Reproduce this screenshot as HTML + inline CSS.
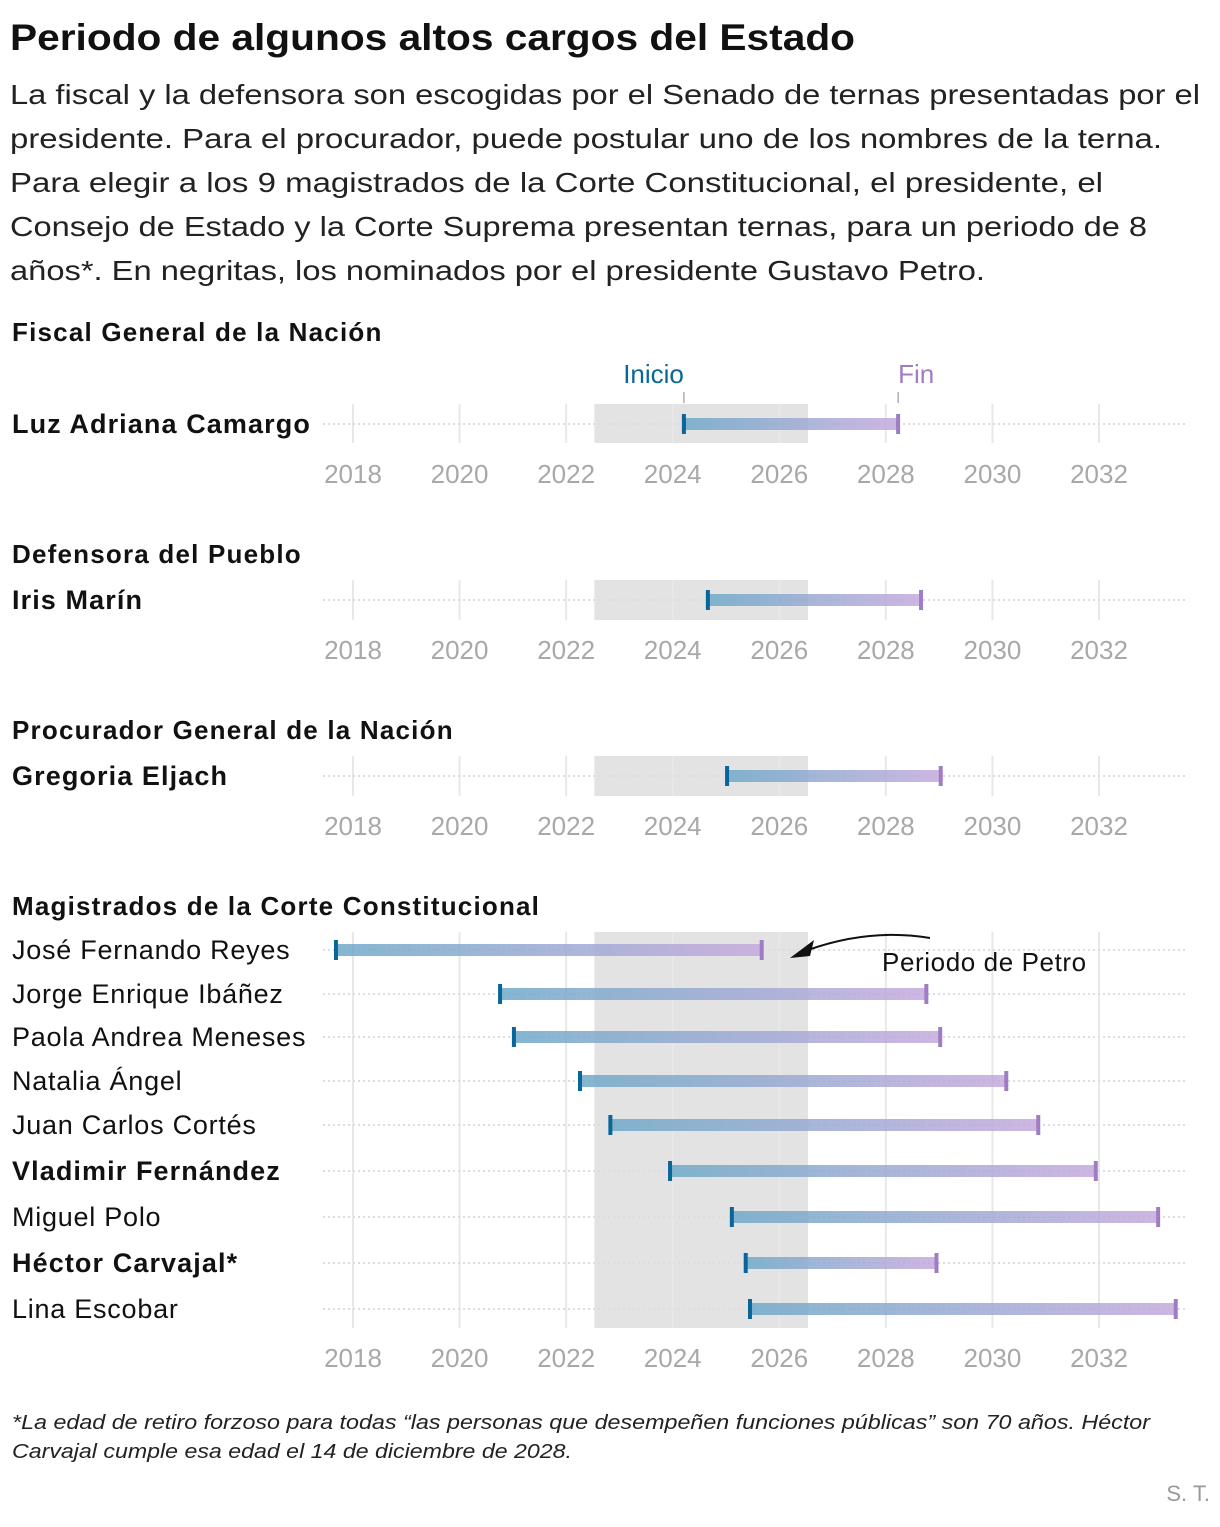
<!DOCTYPE html>
<html><head><meta charset="utf-8"><style>
html,body{margin:0;padding:0;background:#fff;}
svg text{font-family:"Liberation Sans",sans-serif;}
</style></head><body>
<svg id="chart" width="1220" height="1522" viewBox="0 0 1220 1522" xmlns="http://www.w3.org/2000/svg">
<defs>
<linearGradient id="barGrad" x1="0" x2="1" y1="0" y2="0">
<stop offset="0" stop-color="#6fa9c9"/><stop offset="1" stop-color="#c4a9dd"/>
</linearGradient>
</defs>
<text x="10" y="50" font-size="37" font-weight="bold" fill="#111" textLength="845" lengthAdjust="spacingAndGlyphs">Periodo de algunos altos cargos del Estado</text>
<g font-size="28" fill="#222">
<text x="10" y="104" textLength="1190" lengthAdjust="spacingAndGlyphs">La fiscal y la defensora son escogidas por el Senado de ternas presentadas por el</text>
<text x="10" y="148" textLength="1152" lengthAdjust="spacingAndGlyphs">presidente. Para el procurador, puede postular uno de los nombres de la terna.</text>
<text x="10" y="192" textLength="1093" lengthAdjust="spacingAndGlyphs">Para elegir a los 9 magistrados de la Corte Constitucional, el presidente, el</text>
<text x="10" y="236" textLength="1137" lengthAdjust="spacingAndGlyphs">Consejo de Estado y la Corte Suprema presentan ternas, para un periodo de 8</text>
<text x="10" y="280" textLength="975" lengthAdjust="spacingAndGlyphs">años*. En negritas, los nominados por el presidente Gustavo Petro.</text>
</g>
<g id="plots"></g>
<g font-size="20" font-style="italic" fill="#222">
<text x="12" y="1429" textLength="1138" lengthAdjust="spacingAndGlyphs">*La edad de retiro forzoso para todas “las personas que desempeñen funciones públicas” son 70 años. Héctor</text>
<text x="12" y="1458" textLength="560" lengthAdjust="spacingAndGlyphs">Carvajal cumple esa edad el 14 de diciembre de 2028.</text>
</g>
<text x="1210" y="1501" font-size="22" fill="#999" text-anchor="end">S. T.</text>
</svg>
<script>
const ticks = [2018, 2020, 2022, 2024, 2026, 2028, 2030, 2032];
const petroStart = 2022.53, petroEnd = 2026.54;
const panelTitles = ["Fiscal General de la Nación","Defensora del Pueblo","Procurador General de la Nación","Magistrados de la Corte Constitucional"];
const p1Names = ["Luz Adriana Camargo"], p1Start=[2024.21], p1End=[2028.23], p1Bold=[true];
const p2Names = ["Iris Marín"], p2Start=[2024.66], p2End=[2028.66], p2Bold=[true];
const p3Names = ["Gregoria Eljach"], p3Start=[2025.02], p3End=[2029.03], p3Bold=[true];
const p4Names = ["José Fernando Reyes","Jorge Enrique Ibáñez","Paola Andrea Meneses","Natalia Ángel","Juan Carlos Cortés","Vladimir Fernández","Miguel Polo","Héctor Carvajal*","Lina Escobar"];
const p4Start = [2017.68,2020.76,2021.02,2022.26,2022.83,2023.95,2025.11,2025.37,2025.45];
const p4End = [2025.67,2028.76,2029.02,2030.26,2030.86,2031.94,2033.11,2028.95,2033.44];
const p4Bold = [false,false,false,false,false,true,false,true,false];

const NS="http://www.w3.org/2000/svg";
const x = v => 353 + (v-2018)*(746/14);
const g = document.getElementById('plots');
function el(tag, attrs, parent){const e=document.createElementNS(NS,tag);for(const k in attrs)e.setAttribute(k,attrs[k]);(parent||g).appendChild(e);return e;}

const panels = [
 {title:panelTitles[0], titleY:341, top:404, rows:[424], bottom:443, shadeTop:404, shadeBot:443, axisY:483, names:p1Names, s:p1Start, e:p1End, b:p1Bold},
 {title:panelTitles[1], titleY:563, top:580, rows:[600], bottom:620, shadeTop:580, shadeBot:620, axisY:659, names:p2Names, s:p2Start, e:p2End, b:p2Bold},
 {title:panelTitles[2], titleY:739, top:756, rows:[776], bottom:796, shadeTop:756, shadeBot:796, axisY:835, names:p3Names, s:p3Start, e:p3End, b:p3Bold},
 {title:panelTitles[3], titleY:915, top:932, rows:[950,994,1037,1081,1125,1171,1217,1263,1309], bottom:1328, shadeTop:932, shadeBot:1328, axisY:1367, names:p4Names, s:p4Start, e:p4End, b:p4Bold}
];
panels.forEach((p,pi)=>{
  const pg = el('g',{});
  
  
  const t = el('text',{x:12,y:p.titleY,'font-size':26,'font-weight':'bold',fill:'#111','letter-spacing':1.2},pg);
  
  
  t.textContent=p.title;
  const sh = el('rect',{x:x(petroStart),y:p.shadeTop,width:x(petroEnd)-x(petroStart),height:p.shadeBot-p.shadeTop,fill:'#e3e3e3'},pg);
  
  
  ticks.forEach(tk=>{
    const l=el('line',{x1:x(tk),x2:x(tk),y1:p.top,y2:p.bottom,stroke:'#e8e8e8','stroke-width':2},pg);
    
    
    const lb=el('text',{x:x(tk),y:p.axisY,'font-size':26,fill:'#a8a8a8','text-anchor':'middle'},pg);
    
    
    lb.textContent=tk;
  });
  p.rows.forEach((ry,i)=>{
    const dl=el('line',{x1:323,x2:1187,y1:ry,y2:ry,stroke:'#ddd','stroke-width':2,'stroke-dasharray':'2 3'},pg);
    
    
    const nm=el('text',{x:12,y:ry+9,'font-size':27,'font-weight':p.b[i]?'bold':'normal',fill:'#111','letter-spacing':p.b[i]?1.1:0.75},pg);
    
    
    nm.textContent=p.names[i];
    const x0=x(p.s[i]), x1=x(p.e[i]);
    const bar=el('rect',{x:x0,y:ry-6,width:x1-x0,height:12,fill:'url(#barGrad)',opacity:0.85},pg);
    
    
    const c1=el('rect',{x:x0-2,y:ry-10,width:4,height:20,fill:'#0a6698'},pg);
    
    
    const c2=el('rect',{x:x1-2,y:ry-10,width:4,height:20,fill:'#a07cc5'},pg);
    
    
  });
  if(pi===0){
    const xs=x(p.s[0]), xe=x(p.e[0]);
    const a=el('text',{x:xs,y:383,'font-size':26,fill:'#0a6698','text-anchor':'end'},pg);
    
    
    a.textContent='Inicio';
    const b=el('text',{x:xe,y:383,'font-size':26,fill:'#a07cc5','text-anchor':'start'},pg);
    
    
    b.textContent='Fin';
    el('line',{x1:xs,x2:xs,y1:392,y2:403,stroke:'#888','stroke-width':1},pg);
    el('line',{x1:xe,x2:xe,y1:392,y2:403,stroke:'#888','stroke-width':1},pg);
  }
  if(pi===3){
    const pa=el('text',{x:882,y:971,'font-size':26,fill:'#111','letter-spacing':0.6},pg);
    
    
    pa.textContent='Periodo de Petro';
    const ar=el('path',{d:'M930 938 Q870 928 808 950',fill:'none',stroke:'#111','stroke-width':2},pg);
    
    
    el('path',{d:'M790 958 L814 940 L810 956 Z',fill:'#111'},pg);
  }
});
</script>
</body></html>
